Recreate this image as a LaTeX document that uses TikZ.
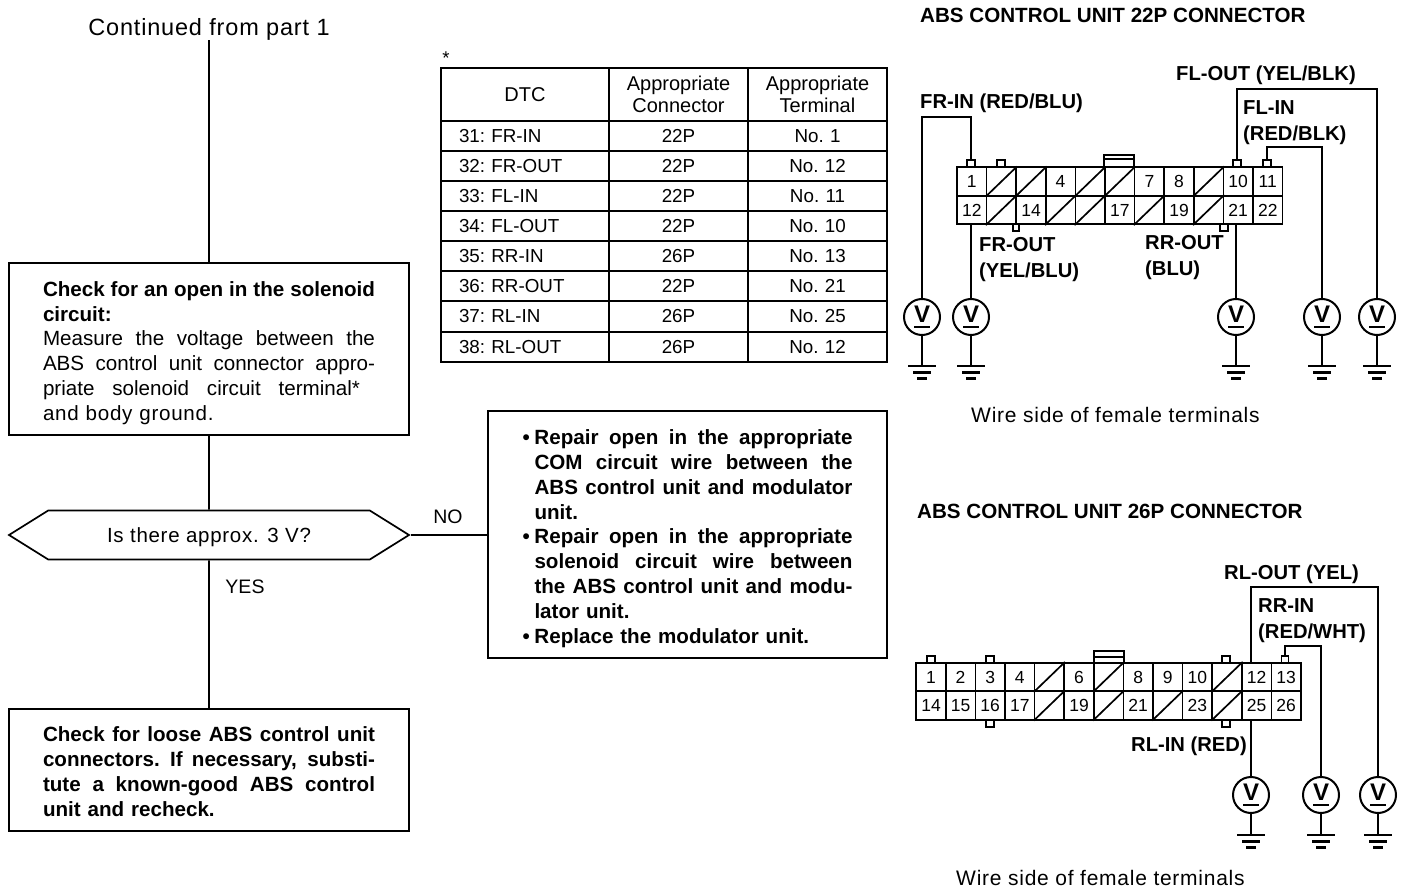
\documentclass[tikz,border=0pt]{standalone}
\usepackage{fontspec}
\setmainfont{Liberation Sans}
\newfontfamily\widefont[LetterSpace=3.5]{Liberation Sans}
\usetikzlibrary{shapes.symbols, positioning}
\newcommand{\jl}[1]{\makebox[332pt][s]{\spaceskip=0.2em plus 1fill\relax #1}}
\newcommand{\jr}[1]{\hspace*{12pt}\makebox[318pt][s]{\spaceskip=0.2em plus 1fill\relax #1}}
\newcommand{\bl}[1]{\makebox[12pt][l]{\textbullet}\makebox[318pt][s]{\spaceskip=0.2em plus 1fill\relax #1}}
\tikzset{
  thinline/.style={line width=1.7pt},
  wire/.style={line width=2pt},
  flowtxt/.style={font=\fontsize{20.6}{24.8}\selectfont},
  flowbox/.style={rectangle, draw, thinline, align=left, inner sep=0pt, flowtxt},
  tcell/.style={rectangle, draw, line width=1.9pt, inner ysep=0pt, inner xsep=10pt, minimum height=30pt,
                text width=#1, align=center, font=\fontsize{18.8}{22}\selectfont\frenchspacing},
  thead/.style={minimum height=53pt, font=\fontsize{20}{22}\selectfont},
  lbl/.style={anchor=west, inner sep=0pt, font=\fontsize{20.2}{25}\selectfont\bfseries},
  headlbl/.style={lbl, font=\fontsize{20.6}{25}\selectfont\bfseries},
  plain/.style={anchor=west, inner sep=0pt, font=\fontsize{19.5}{25}\selectfont},
  widetxt/.style={anchor=west, inner sep=0pt, font=\fontsize{21}{25}\widefont},
  pincell/.style={rectangle, draw, thinline, inner sep=0pt, minimum width=29.6pt, minimum height=28.5pt,
                  font=\fontsize{17.5}{20}\selectfont},
  tab/.style={rectangle, draw, fill=white, thinline, inner sep=0pt, minimum width=8pt, minimum height=7pt},
  vmeter/.style={circle, draw, wire, fill=white, inner sep=0pt, minimum size=36pt, align=center,
                 font=\fontsize{24}{6}\selectfont\bfseries},
  gnd/.pic={\draw[line width=2.4pt] (-14,0) -- (14,0) (-9,6.5) -- (9,6.5) (-5,12.5) -- (5,12.5);},
}
\begin{document}
\begin{tikzpicture}[x=1pt, y=-1pt]
  \useasboundingbox (0,0) rectangle (1408,890);
  % flow chart
  \node[inner sep=0pt, font=\fontsize{23.5}{26}\widefont] (start) at (209,29) {Continued from part 1};
  \node[flowbox, minimum width=400pt, minimum height=172pt, text width=332pt] (check) at (209,349) {%
    \jl{\bfseries\rule{0pt}{23pt}Check for an open in the solenoid}\\
    \textbf{circuit:}\\
    \jl{Measure the voltage between the}\\
    \jl{ABS control unit connector appro-}\\
    \makebox[317pt][s]{\spaceskip=0.2em plus 1fill\relax priate solenoid circuit terminal*}\\
    {\widefont and body ground.}};
  \node[signal, signal to=east and west, signal pointer angle=64, draw, thinline, minimum width=400pt,
        minimum height=49pt, inner sep=0pt, font=\fontsize{20.5}{24}\widefont] (ask) at (209,535) {\rule{0pt}{20pt}Is there approx. 3 V?};
  \node[flowbox, minimum width=400pt, minimum height=122pt, text width=332pt] (loose) at (209,770) {\bfseries
    \jl{\rule{0pt}{18pt}Check for loose ABS control unit}\\
    \jl{connectors. If necessary, substi-}\\
    \jl{tute a known-good ABS control}\\
    unit and recheck.};
  \node[flowbox, minimum width=399pt, minimum height=247pt, text width=330pt] (repair) at (687.5,534.5) {\bfseries
    \bl{\rule{0pt}{23pt}Repair open in the appropriate}\\
    \jr{COM circuit wire between the}\\
    \jr{ABS control unit and modulator}\\
    \hspace*{12pt}unit.\\
    \bl{Repair open in the appropriate}\\
    \jr{solenoid circuit wire between}\\
    \jr{the ABS control unit and modu-}\\
    \hspace*{12pt}lator unit.\\
    \makebox[12pt][l]{\textbullet}Replace the modulator unit.};
  \draw[thinline] (start) -- (check);
  \draw[thinline] (check) -- (ask);
  \draw[thinline] (ask) -- (loose);
  \draw[thinline] (ask.east) -- (repair.west |- ask.east);
  \node[plain, anchor=center] (no) at (448,517) {NO};
  \node[plain, anchor=center] (yes) at (245,587) {YES};
  % table
  \node[inner sep=0pt, font=\fontsize{18.5}{22}\selectfont] (star) at (446,58) {*};
  \node[tcell=148pt, thead] (dtc) at (525,94.5) {DTC};
  \node[tcell=119pt, thead] (conn) at (678.5,94.5) {Appropriate\\Connector};
  \node[tcell=119pt, thead] (term) at (817.5,94.5) {Appropriate\\Terminal};
  \foreach \y/\d/\c/\t in {136/31: FR-IN/22P/No. 1, 166/32: FR-OUT/22P/No. 12, 196/33: FL-IN/22P/No. 11,
                           226/34: FL-OUT/22P/No. 10, 256/35: RR-IN/26P/No. 13, 286/36: RR-OUT/22P/No. 21,
                           316.5/37: RL-IN/26P/No. 25, 347/38: RL-OUT/26P/No. 12}{
    \node[tcell=132pt, align=left, inner xsep=18pt] at (525,\y) {\d};
    \node[tcell=119pt] at (678.5,\y) {\c};
    \node[tcell=119pt] at (817.5,\y) {\t};
  }
  % 22P connector
  \node[headlbl] (head22) at (920,15) {ABS CONTROL UNIT 22P CONNECTOR};
  \foreach \n in {1,4,7,8,10,11,12,14,17,19,21,22}{
    \node[pincell] (a\n) at ({971.8+29.6*mod(\n-1,11)},{181.5+28.5*int((\n-1)/11)}) {\n};
  }
  \foreach \n in {2,3,5,6,9,13,15,16,18,20}{
    \node[pincell] (a\n) at ({971.8+29.6*mod(\n-1,11)},{181.5+28.5*int((\n-1)/11)}) {};
    \draw[thinline] (a\n.south west) -- (a\n.north east);
  }
  \node[tab] (tabfr) at (971,163.5) {};
  \node[tab] at (1001,163.5) {};
  \node[tab] (tabfl) at (1237,163.5) {};
  \node[tab] (tabfi) at (1267,163.5) {};
  \node[tab, minimum width=30pt, minimum height=12pt] (latcha) at (1119,161) {};
  \draw[thinline] (latcha.west) ++(0,-2) -- ++(30,0);
  \node[tab, minimum width=6pt] at (1016,227.5) {};
  \node[tab] at (1224,227.5) {};
  % voltmeters and grounds, 22P
  \foreach \v/\x in {vfr/922, vfo/971, vro/1236, vfi/1322, vfl/1377}{
    \node[vmeter] (\v) at (\x,317) {V\\\rule{16pt}{1.8pt}};
    \coordinate (g\v) at (\x,366);
    \draw[wire] (\v.south) -- (g\v);
    \pic at (g\v) {gnd};
  }
  \coordinate (topfr) at (922,117);
  \coordinate (topfl) at (1377,89);
  \coordinate (topfi) at (1322,147);
  \draw[wire] (tabfr.north) |- (topfr) -- (vfr.north);
  \draw[wire] (tabfl.north) |- (topfl) -- (vfl.north);
  \draw[wire] (tabfi.north) |- (topfi) -- (vfi.north);
  \draw[wire] (vfo.north |- a12.south) -- (vfo.north);
  \draw[wire] (vro.north |- a21.south) -- (vro.north);
  \node[lbl] at (1176,75) {FL-OUT (YEL/BLK)};
  \node[lbl] at (920,103) {FR-IN (RED/BLU)};
  \node[lbl] at (1243,108) {FL-IN};
  \node[lbl] at (1243,135) {(RED/BLK)};
  \node[lbl] at (979,245) {FR-OUT};
  \node[lbl] at (979,272) {(YEL/BLU)};
  \node[lbl] at (1145,243) {RR-OUT};
  \node[lbl] at (1145,270) {(BLU)};
  \node[widetxt] at (971,415) {Wire side of female terminals};
  % 26P connector
  \node[headlbl] (head26) at (917,511) {ABS CONTROL UNIT 26P CONNECTOR};
  \foreach \n in {1,2,3,4,6,8,9,10,12,13,14,15,16,17,19,21,23,25,26}{
    \node[pincell] (b\n) at ({931+29.6*mod(\n-1,13)},{677+28.5*int((\n-1)/13)}) {\n};
  }
  \foreach \n in {5,7,11,18,20,22,24}{
    \node[pincell] (b\n) at ({931+29.6*mod(\n-1,13)},{677+28.5*int((\n-1)/13)}) {};
    \draw[thinline] (b\n.south west) -- (b\n.north east);
  }
  \node[tab] at (931,659.5) {};
  \node[tab] at (990,659.5) {};
  \node[tab] at (1226,659.5) {};
  \node[tab, minimum width=7pt] (tabri) at (1285,659.5) {};
  \node[tab, minimum width=30pt, minimum height=12pt] (latchb) at (1109,657) {};
  \draw[thinline] (latchb.west) -- ++(30,0);
  \node[tab] at (990,723.5) {};
  \node[tab] at (1226,723.5) {};
  % voltmeters and grounds, 26P
  \foreach \v/\x in {vli/1251, vri/1321, vlo/1378}{
    \node[vmeter] (\v) at (\x,795) {V\\\rule{16pt}{1.8pt}};
    \coordinate (g\v) at (\x,835);
    \draw[wire] (\v.south) -- (g\v);
    \pic at (g\v) {gnd};
  }
  \coordinate (toplo) at (1378,587);
  \coordinate (topri) at (1321,646);
  \draw[wire] (vli.north |- b12.north) |- (toplo) -- (vlo.north);
  \draw[wire] (tabri.north) |- (topri) -- (vri.north);
  \draw[wire] (vli.north |- b25.south) -- (vli.north);
  \node[lbl] at (1224,574) {RL-OUT (YEL)};
  \node[lbl] at (1258,606) {RR-IN};
  \node[lbl] at (1258,633) {(RED/WHT)};
  \node[lbl] at (1131,746) {RL-IN (RED)};
  \node[widetxt] at (956,878) {Wire side of female terminals};
\end{tikzpicture}
\end{document}
